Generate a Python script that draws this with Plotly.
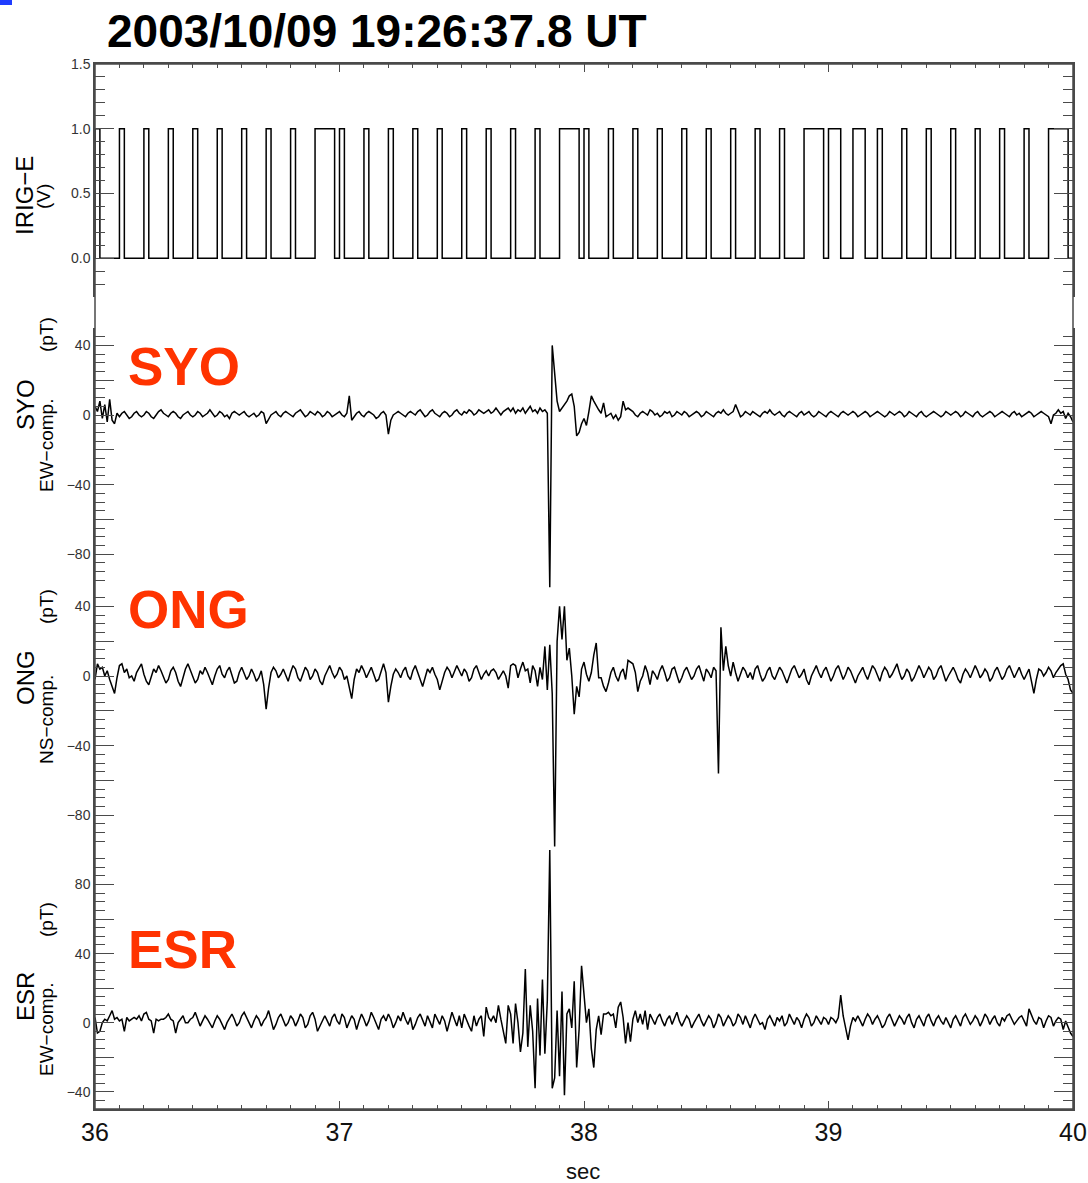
import plotly.graph_objects as go

# ---------------- data ----------------
T_START = 36.0
DT = 0.01

irig_bits = list("000000000P" "000000000P" "000000000P" "110000000P")
irig_bit_starts = [round(36.0 + 0.1 * i, 2) for i in range(40)]
irig_widths = {"0": 0.02, "1": 0.05, "P": 0.08}

syo_ew = [
    5, 2, 8, -2, 6, -4, 9, -3, -5, 1,
    -1, 1, 2, 0, -2, -1, 1, 2, 0, -1,
    0, 2, 1, -1, -2, 0, 2, 3, 1, 0,
    -1, 1, 2, 1, -1, -2, 0, 1, 2, 0,
    -1, 0, 2, 1, -1, 0, 1, 3, 1, -1,
    0, 2, 1, -1, 0, -2, 1, 2, 1, 0,
    1, 2, 0, -1, 0, 1, -1, 0, 2, 1,
    -5, -2, 0, 1, 2, 0, -1, 1, 2, 1,
    0, -1, 1, 2, 3, 1, -1, 0, 2, 1,
    0, 2, 1, -1, 0, 2, 1, -1, 0, 1,
    2, 0, -1, 1, 11, -3, -1, 1, 2, 0,
    -1, 1, 2, 1, 0, -2, -1, 1, 2, 0,
    -11, -3, 0, 1, 2, 1, 0, -1, 1, 2,
    1, 0, 2, 3, 1, -1, 0, 2, 3, 1,
    0, -1, 1, 2, 1, -1, 0, 2, 3, 1,
    0, 2, 1, 3, 2, 0, 1, 3, 2, 1,
    2, 3, 1, 2, 4, 2, 0, 2, 3, 4,
    2, 4, 1, 3, 2, 4, 1, 3, 5, 2,
    3, 1, 4, 2, 3, 1, -99, 40, 24, 8,
    2, 4, 6, 8, 11, 12, 5, -12, -10, -5,
    -2, -6, 2, 11, 8, 5, 3, 1, 7, -1,
    0, 1, -2, 0, -3, -1, 8, 3, 4, 3,
    2, 0, -1, 1, 2, 1, 0, 3, 2, 0,
    1, -1, 0, 2, 1, 2, -1, 0, 2, 1,
    0, 2, 1, -1, 0, 1, 2, 1, -1, 0,
    2, 1, 0, -1, 1, 2, 1, 3, 1, 0,
    1, 2, 6, 2, -1, 0, 2, 1, 0, 2,
    1, 0, -1, 1, 2, 1, 3, 1, 0, 1,
    2, 0, -1, 1, 2, 1, 0, -1, 1, 2,
    0, 1, 2, 0, -1, 0, 2, 1, 0, -1,
    1, 2, 1, 0, -1, 1, 2, 1, 0, 1,
    2, 1, -1, 0, 1, 2, 1, -1, 0, 1,
    2, 1, 0, -1, 0, 2, 1, 0, 1, 2,
    1, -1, 0, 2, 1, 0, -1, 1, 2, 0,
    -1, 0, 1, 2, 1, 0, -1, 0, 2, 1,
    0, 1, 2, 1, -1, 0, 2, 1, 0, -1,
    1, 2, 0, -1, 0, 1, 2, 1, -1, 0,
    1, 2, 1, 0, -1, 1, 2, 0, 1, -1,
    0, 1, 2, 1, -1, 0, 1, 2, 1, 0,
    -1, -5, 0, 1, 3, 1, 2, -2, 1, -1,
    -4,
]

ong_ns = [
    -2, 7, 4, 5, 0, 3, -2, -6, -10, -1,
    6, 7, 2, 4, -1, 0, -3, 2, 5, 7,
    1, -3, -5, 0, 4, 2, 6, 3, -1, -4,
    -2, 3, 5, 2, -3, -6, -1, 4, 7, 3,
    0, -4, -2, 3, 1, 5, 2, -2, -5, 0,
    4, 6, 1, -1, 3, 5, 0, -4, -3, 2,
    5, 2, -2, 0, 4, 1, -3, -1, 3, -5,
    -19, -7, 2, 5, 3, -1, 1, 4, 0, -3,
    2, 6, 4, -1, -3, 1, 5, 3, -2, 0,
    4, 2, -3, -5, 0, 3, 6, 2, -1, 1,
    5, 3, -2, 0, -6, -13, -2, 4, 2, 6,
    3, -1, 2, 5, 1, -3, -2, 3, 7, 2,
    -15, -6, 1, 4, 2, -1, 3, 5, 0, -2,
    3, 6, 2, -2, -6, -1, 4, 2, 5, 1,
    -2, -8, -3, 2, 5, 3, -1, 2, 6, 3,
    0, 4, 2, -3, -1, 4, 6, 2, -2, 1,
    3, 0, 3, 4, 2, -2, 1, 3, 0, -7,
    6, 7, 6, -1, 4, 8, 3, 4, -4, 6,
    3, -6, 5, -2, 17, -8, 18, -10, -98, 20,
    40, 21, 40, 9, 16, 0, -22, -6, -12, 4,
    8, 1, -3, 2, 12, 19, -1, -1, -6, -9,
    -4, 2, 5, 0, -3, 2, 4, -2, 9, 8,
    7, 2, -9, -3, 0, 6, 2, -5, 3, 1,
    -2, 3, 6, 2, -3, -1, 4, 5, 1, -4,
    -1, 3, 5, 2, -2, 0, 4, 6, 2, -3,
    4, 2, -1, 5, 3, -56, 28, 3, 17, 6,
    0, 8, 2, -3, 1, 5, 3, -1, 2, -2,
    4, 6, 1, -3, -1, 3, 5, 0, -2, 2,
    5, 3, -1, -4, 0, 4, 6, 2, -1, 1,
    4, -2, -5, 0, 3, 6, 2, -1, 3, 5,
    1, -3, 0, 4, 6, 2, -2, 1, 5, 3,
    -1, -4, 0, 3, 5, 1, -2, 2, 6, 4,
    0, -3, 2, 5, 3, -1, 1, 4, 7, 2,
    -2, 0, 4, 2, -3, -1, 3, 6, 3, -1,
    2, 5, 3, -2, 0, 4, 6, 1, -3, 0,
    3, 5, 2, -2, -4, 1, 4, 2, -1, 3,
    6, 3, -1, 1, 4, 2, -3, -1, 3, 5,
    2, -2, 0, 4, 6, 3, -1, 2, 5, 1,
    -2, 1, 4, -3, -10, -2, 4, 3, 0, 2,
    5, 3, -1, 2, 4, 6, 7, 1, -2, -8,
    -10,
]

esr_ew = [
    3, -6, -5, 0, 2, 1, 4, 7, 2, 3,
    1, 2, -5, 3, 1, 2, 3, 2, 4, 1,
    5, 6, 2, 1, -6, 2, 1, 2, 2, 3,
    5, 2, 1, -6, 0, 2, 4, 0, 0, 2,
    3, 6, 2, -2, 1, 4, 2, -1, -3, 1,
    4, 2, -1, -4, 0, 3, 5, 2, -2, 0,
    4, 6, 3, -1, -3, 1, 4, 2, -2, 1,
    3, 7, 2, -4, -1, 3, 5, 1, -2, 0,
    4, 2, -2, 1, 5, 3, -3, -1, 4, 6,
    2, -5, -2, 2, 4, 1, -2, 3, 5, 1,
    -1, 5, 3, -3, 0, 4, 2, -4, 1, 5,
    2, -2, 1, 6, 3, -1, -4, 2, 4, 1,
    5, 2, -3, 0, 4, 1, 6, 2, -1, 3,
    -4, -1, 3, 5, 2, -2, 4, 1, -3, 5,
    2, -1, 4, 1, -5, 0, 6, 2, -2, 4,
    -3, 5, 1, -2, -5, 4, -2, 2, 4, -8,
    9, 3, 1, 4, 0, 10, 2, -6, -12, 10,
    5, -12, 11, 0, -17, -6, 31, -14, 10, -5,
    -38, 14, -19, 25, -18, 13, 100, -38, -32, 7,
    -31, 18, -42, 5, 8, -3, 24, -26, -4, 33,
    17, 0, 8, -15, -26, -4, 4, -7, 5, 5,
    6, 4, 5, -3, 9, 12, 3, -12, 0, -11,
    2, 7, 0, 5, -1, 7, -4, 5, 2, -1,
    3, 5, 1, -2, 2, 4, -1, 3, 6, 1,
    -2, 1, 4, 2, -3, 0, 3, 5, 1, -2,
    1, 4, 2, -3, 0, 5, 3, -2, 1, 4,
    2, -2, 0, 5, 3, -1, 4, 1, -3, 2,
    5, 2, -1, 0, -4, 2, 4, 1, -2, 3,
    1, 4, -2, 0, 5, 2, -1, 3, 1, -3,
    2, 5, 3, -2, 0, 4, 1, -1, 3, 2,
    -1, 3, 2, 0, 3, 16, 4, -3, -10, -2,
    3, 1, 4, 1, -2, 2, 5, 3, -1, 2,
    4, 1, -3, -1, 3, 5, 2, -2, 1, 4,
    2, -1, 3, 5, 0, -3, 2, 4, 1, -2,
    3, 5, 1, -2, 2, 4, 1, -1, 3, 0,
    -3, 2, 4, 1, -2, 3, 5, 2, -1, 1,
    4, 2, -2, 1, 5, 3, -1, 2, 4, 0,
    -2, 3, 1, 4, 5, 2, -1, 1, 3, 4,
    1, -2, 8, 4, 1, -1, 3, 2, -3, 1,
    4, 3, -2, 1, 3, 2, -4, 1, -3, -6,
    -8,
]

title_text = "2003/10/09 19:26:37.8 UT"
stations = ["SYO", "ONG", "ESR"]
components = ["EW\u2212comp.", "NS\u2212comp.", "EW\u2212comp."]

# ---------------- build ----------------
def times(vals):
    return [round(T_START + DT * i, 3) for i in range(len(vals))]

irig_x, irig_y = [], []
for s, b in zip(irig_bit_starts, irig_bits):
    w = irig_widths[b]
    irig_x += [s, s, s + w, s + w]
    irig_y += [0, 1, 1, 0]
irig_x.append(40.0)
irig_y.append(0)

W, H = 1088, 1183
ML, MR, MT, MB = 95, 15, 64, 74
PW, PH = W - ML - MR, H - MT - MB


def px(x):
    return (x - ML) / PW


def py(y):
    return (H - MB - y) / PH


FONT = "Liberation Sans"
AX = "#4a4a4a"
LINE = dict(color="black", width=1.5)

fig = go.Figure()
fig.add_trace(go.Scatter(x=irig_x, y=irig_y, mode="lines", line=LINE, xaxis="x", yaxis="y", showlegend=False))
fig.add_trace(go.Scatter(x=times(syo_ew), y=syo_ew, mode="lines", line=LINE, xaxis="x2", yaxis="y2", showlegend=False))
fig.add_trace(go.Scatter(x=times(ong_ns), y=ong_ns, mode="lines", line=LINE, xaxis="x3", yaxis="y3", showlegend=False))
fig.add_trace(go.Scatter(x=times(esr_ew), y=esr_ew, mode="lines", line=LINE, xaxis="x4", yaxis="y4", showlegend=False))


def yax(domain, rng, vals, texts, minor_dt, anchor):
    return dict(
        domain=domain, range=rng, tickmode="array", tickvals=vals, ticktext=texts,
        ticks="inside", ticklen=19, tickwidth=1.2, tickcolor=AX,
        minor=dict(tickmode="linear", tick0=0, dtick=minor_dt, ticks="inside", ticklen=10,
                   tickwidth=1.2, tickcolor=AX),
        showline=True, linecolor=AX, linewidth=1.5, mirror="ticks",
        showgrid=False, zeroline=False, automargin=False,
        tickfont=dict(family=FONT, size=14, color="#333"),
        anchor=anchor,
    )


d_irig = [py(297), 1.0]
d_syo = [py(589), py(328)]
d_ong = [py(850), py(589)]
d_esr = [0.0, py(850)]

y1 = yax(d_irig, [-0.3, 1.5], [0, 0.5, 1.0, 1.5], ["0.0", "0.5", "1.0", "1.5"], 0.1, "x")
mag_vals = [-100, -80, -60, -40, -20, 0, 20, 40]
mag_text = ["", "\u221280", "", "\u221240", "", "0", "", "40"]
y2 = yax(d_syo, [-100, 50], mag_vals, mag_text, 5, "x2")
y3 = yax(d_ong, [-100, 50], mag_vals, mag_text, 5, "x3")
esr_vals = [-40, -20, 0, 20, 40, 60, 80, 100]
esr_text = ["\u221240", "", "0", "", "40", "", "80", ""]
y4 = yax(d_esr, [-50, 100], esr_vals, esr_text, 5, "x4")

xbase = dict(range=[36, 40], domain=[0, 1], showgrid=False, zeroline=False, automargin=False)
x1 = dict(xbase, anchor="y", side="top", ticks="inside", tickmode="linear", tick0=36, dtick=1,
          ticklen=8, tickwidth=1.2, tickcolor=AX, showticklabels=False, showline=True,
          linecolor=AX, linewidth=1.5,
          minor=dict(tickmode="linear", tick0=36, dtick=0.1, ticks="inside", ticklen=4,
                     tickwidth=1.2, tickcolor=AX))
x2 = dict(xbase, anchor="y2", visible=False)
x3 = dict(xbase, anchor="y3", visible=False)
x4 = dict(xbase, anchor="y4", side="bottom", ticks="inside", tickmode="linear", tick0=36, dtick=1,
          ticklen=8, tickwidth=1.2, tickcolor=AX, showticklabels=True, showline=True,
          linecolor=AX, linewidth=1.5,
          tickfont=dict(family=FONT, size=25, color="#111"),
          minor=dict(tickmode="linear", tick0=36, dtick=0.1, ticks="inside", ticklen=4,
                     tickwidth=1.2, tickcolor=AX))

annotations = [
    dict(text=title_text, x=px(377), y=py(31), xref="paper", yref="paper", showarrow=False,
         xanchor="center", yanchor="middle",
         font=dict(family=FONT, size=46, color="black", weight="bold")),
    dict(text="sec", x=px(583), y=py(1171), xref="paper", yref="paper", showarrow=False,
         xanchor="center", yanchor="middle", font=dict(family=FONT, size=22, color="#111")),
]

red_y = [366, 609, 949]
for name, yc in zip(stations, red_y):
    annotations.append(dict(text=name, x=px(126), y=py(yc), xref="paper", yref="paper",
                            showarrow=False, xanchor="left", yanchor="middle",
                            font=dict(family=FONT, size=53, color="#FF3300", weight="bold")))


def rot(text, xc, yc, size):
    return dict(text=text, x=px(xc), y=py(yc), xref="paper", yref="paper", showarrow=False,
                textangle=-90, xanchor="center", yanchor="middle",
                font=dict(family=FONT, size=size, color="black"))


annotations += [
    rot("IRIG\u2212E", 25, 196, 24),
    rot("(V)", 43, 197, 19),
]
name_y = [405, 678, 997]
comp_y = [446, 720, 1030]
pt_y = [335, 607, 920]
for name, comp, ny, cy, ty in zip(stations, components, name_y, comp_y, pt_y):
    annotations.append(rot(name, 25, ny, 24))
    annotations.append(rot(comp, 46, cy, 19))
    annotations.append(rot("(pT)", 46, ty, 19))

shapes = [
    dict(type="rect", xref="paper", yref="paper", x0=0, x1=1, y0=0, y1=1,
         line=dict(color=AX, width=1.5)),
    dict(type="rect", xref="paper", yref="paper", x0=px(0), x1=px(12), y0=py(5), y1=py(0),
         line=dict(width=0), fillcolor="#1f3cff"),
]

fig.update_layout(
    width=W, height=H, autosize=False,
    margin=dict(l=ML, r=MR, t=MT, b=MB, autoexpand=False),
    paper_bgcolor="white", plot_bgcolor="white",
    xaxis=x1, xaxis2=x2, xaxis3=x3, xaxis4=x4,
    yaxis=y1, yaxis2=y2, yaxis3=y3, yaxis4=y4,
    annotations=annotations, shapes=shapes,
    showlegend=False,
)

fig.write_html("out.html")
